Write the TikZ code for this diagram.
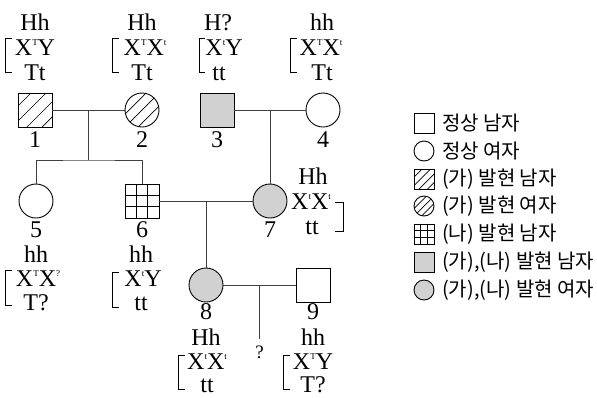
\documentclass[tikz,border=0pt]{standalone}
\usepackage{fontspec}
\newfontfamily\krfont{Noto Sans CJK KR}
\newfontfamily\labfont{Liberation Serif}
\usetikzlibrary{calc}
\newcommand\sps[1]{\raisebox{10pt}{\fontsize{9}{9}\selectfont #1}}
\begin{document}
\begin{tikzpicture}[x=1pt,y=-1pt,
  ind/.style={draw=black,line width=0.9pt,inner sep=0pt,outer sep=0pt},
  male/.style={ind,rectangle,minimum size=34pt},
  female/.style={ind,circle,minimum size=34pt},
  lmale/.style={ind,rectangle,minimum size=20pt},
  lfemale/.style={ind,circle,minimum size=20pt},
  both/.style={fill=black!18},
  hatch/.style={path picture={\foreach \k in {#1}{\draw[line width=0.7pt] ([shift={(\k+40,-40)}]path picture bounding box.center) -- ([shift={(\k-40,40)}]path picture bounding box.center);}}},
  grid3/.style={path picture={\foreach \f in {0.3333,0.6667}{
      \draw[line width=0.8pt] ($(path picture bounding box.north west)!\f!(path picture bounding box.north east)$) -- ($(path picture bounding box.south west)!\f!(path picture bounding box.south east)$);
      \draw[line width=0.8pt] ($(path picture bounding box.north west)!\f!(path picture bounding box.south west)$) -- ($(path picture bounding box.north east)!\f!(path picture bounding box.south east)$);}}},
  conn/.style={line width=0.8pt,draw=black!75},
  lab/.style={font=\labfont\fontsize{24}{26}\selectfont,inner sep=0pt,anchor=base},
  qlab/.style={font=\labfont\fontsize{19}{19}\selectfont,inner sep=0pt,anchor=base},
  brk/.style={line width=0.8pt},
  leg/.style={font=\krfont\fontsize{20}{22}\selectfont,anchor=west,inner sep=0pt}
]
\useasboundingbox (0,0) rectangle (597,397);

% individuals
\node[male,hatch={-21,-6,9,24}] (p1) at (35,110) {};
\node[female,hatch={-13,0,13}] (p2) at (142,110) {};
\node[male,both] (p3) at (217,110) {};
\node[female] (p4) at (323,110) {};
\node[female] (p5) at (36,201) {};
\node[male,grid3] (p6) at (142,201) {};
\node[female,both] (p7) at (270,201) {};
\node[female,both] (p8) at (206,285) {};
\node[male] (p9) at (313,285) {};

% numbers
\node[lab] (n1) at (35,147) {1};
\node[lab] (n2) at (142,147) {2};
\node[lab] (n3) at (217,147) {3};
\node[lab] (n4) at (323,147) {4};
\node[lab] (n5) at (36,237) {5};
\node[lab] (n6) at (142,237) {6};
\node[lab] (n7) at (270,237) {7};
\node[lab] (n8) at (206,319) {8};
\node[lab] (n9) at (313,319) {9};

% genotypes generation I
\node[lab] (g1a) at (35,30) {Hh};
\node[lab] (g1b) at (35,55) {X\sps{T}Y};
\node[lab] (g1c) at (35,80) {Tt};
\draw[brk] (12,38) -- (5,38) -- (5,72) -- (12,72);

\node[lab] (g2a) at (142,30) {Hh};
\node[lab] (g2b) at (145,55) {X\sps{T}X\sps{t}};
\node[lab] (g2c) at (142,80) {Tt};
\draw[brk] (119,38) -- (112,38) -- (112,72) -- (119,72);

\node[lab] (g3a) at (218,30) {H?};
\node[lab] (g3b) at (224,55) {X\sps{t}Y};
\node[lab] (g3c) at (219,80) {tt};
\draw[brk] (205,38) -- (199,38) -- (199,72) -- (205,72);

\node[lab] (g4a) at (322,30) {hh};
\node[lab] (g4b) at (321,55) {X\sps{T}X\sps{t}};
\node[lab] (g4c) at (322,80) {Tt};
\draw[brk] (297,38) -- (290,38) -- (290,72) -- (297,72);

% generation II
\node[lab] (g5a) at (36,262) {hh};
\node[lab] (g5b) at (38,286) {X\sps{T}X\sps{?}};
\node[lab] (g5c) at (36,310) {T?};
\draw[brk] (12,270) -- (5,270) -- (5,305) -- (12,305);

\node[lab] (g6a) at (141,262) {hh};
\node[lab] (g6b) at (143,286) {X\sps{t}Y};
\node[lab] (g6c) at (141,310) {tt};
\draw[brk] (119,272) -- (112,272) -- (112,307) -- (119,307);

\node[lab] (g7a) at (313,184) {Hh};
\node[lab] (g7b) at (311,209) {X\sps{t}X\sps{t}};
\node[lab] (g7c) at (312,234) {tt};
\draw[brk] (335,202) -- (343,202) -- (343,231) -- (335,231);

% generation III
\node[lab] (g8a) at (206,345) {Hh};
\node[lab] (g8b) at (207,369) {X\sps{t}X\sps{t}};
\node[lab] (g8c) at (207,392) {tt};
\draw[brk] (185,355) -- (178,355) -- (178,389) -- (185,389);

\node[lab] (g9a) at (313,345) {hh};
\node[lab] (g9b) at (313,369) {X\sps{T}Y};
\node[lab] (g9c) at (313,392) {T?};
\draw[brk] (290,355) -- (283,355) -- (283,389) -- (290,389);

\node[qlab] (unk) at (259.5,358) {?};

% connectors
\draw[conn] (p1) -- (p2);
\coordinate (m12) at ($(p1)!0.5!(p2)$);
\coordinate (s1) at ($(m12)+(0,50)$);
\draw[conn] (m12) -- (s1);
\draw[conn] (p5.north) |- (s1) -| (p6.north);
\draw[conn] (p3) -- (p4);
\coordinate (m34) at ($(p3)!0.5!(p4)$);
\draw[conn] (m34) -- (p7.north);
\draw[conn] (p6) -- (p7);
\coordinate (m67) at ($(p6)!0.5!(p7)$);
\draw[conn] (m67) -- (p8.north);
\draw[conn] (p8) -- (p9);
\coordinate (m89) at ($(p8)!0.5!(p9)$);
\draw[conn] (m89) -- ([yshift=6pt]unk.north);

% legend
\node[lmale] (l1) at (424,123) {};
\node[leg] (t1) at (442,123) {정상 남자};
\node[lfemale] (l2) at (424,151) {};
\node[leg] (t2) at (442,151) {정상 여자};
\node[lmale,hatch={-12,-3.5,5,13.5}] (l3) at (424,179) {};
\node[leg] (t3) at (442,179) {(가) 발현 남자};
\node[lfemale,hatch={-7.5,0,7.5}] (l4) at (424,206) {};
\node[leg] (t4) at (442,206) {(가) 발현 여자};
\node[lmale,grid3] (l5) at (424,234) {};
\node[leg] (t5) at (442,234) {(나) 발현 남자};
\node[lmale,both] (l6) at (424,262) {};
\node[leg] (t6) at (442,262) {(가),(나) 발현 남자};
\node[lfemale,both] (l7) at (424,290) {};
\node[leg] (t7) at (442,290) {(가),(나) 발현 여자};
\end{tikzpicture}
\end{document}
